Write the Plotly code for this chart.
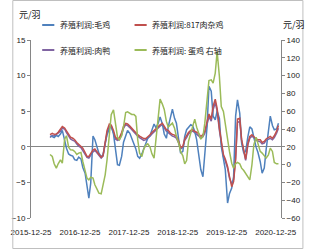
import pandas as pd
import plotly.graph_objects as go

# semi-monthly observation dates (1st and 15th)
dates = pd.date_range("2016-05-15", "2021-01-15", freq="SMS")

names = ["养殖利润:毛鸡", "养殖利润:817肉杂鸡", "养殖利润:肉鸭", "养殖利润: 蛋鸡 右轴"]

broiler = [1.5, 1.45, 1.3, 1.6, 1.45, 1.8, 2.3, 0.75, -0.2, -1.0,
           -1.2, -1.3, -1.8, -1.9, -1.45, -1.7, -2.9, -3.7, -5.3, -7.2,
           -5.1, 1.5, 1.0, -0.2, -0.9, -1.4, -1.1, 0.5, 1.7, 2.5,
           3.0, 1.8, -0.2, -2.5, -2.6, -1.35, 0.65, 1.7, 2.3, 1.9,
           1.2, 0.4, -0.3, -1.35, -1.6, -1.0, -0.3, 0.4, 1.2, 1.6,
           2.3, 3.2, 2.7, 3.3, 4.2, 3.2, 1.8, 1.2, 2.8, 4.0,
           5.3, 4.0, 3.3, 1.0, -0.9, -0.65, 1.45, 2.4, 2.8, 3.1,
           2.95, 2.15, 1.0, -1.1, -3.2, -4.2, -1.35, 2.85, 8.5, 7.8,
           4.3, 3.8, 5.0, 4.0, 0.05, -1.6, -3.2, -7.9, -6.6, -5.8,
           -4.2, 4.3, 6.6, 4.7, 0.5, -0.9, -0.65, 1.45, 2.8, 2.5,
           1.2, -0.05, -0.8, -2.1, -3.7, -3.0, -0.4, 2.4, 4.3, 3.0,
           2.4, 2.5, 3.3]

hybrid817 = [1.7, 1.9, 1.75, 1.8, 2.05, 2.5, 2.85, 2.65, 2.25, 1.75,
             1.35, 1.2, 1.0, 0.6, 0.35, 0.1, -0.2, -0.8, -1.35, -1.35,
             -0.9, -0.45, -0.3, -0.65, -1.0, -1.45, -1.25, 0.75, 2.3, 3.2,
             3.05, 2.3, 1.35, 1.1, 1.25, 2.0, 2.85, 3.3, 3.2, 2.9,
             2.6, 2.25, 2.0, 1.7, 1.5, 1.3, 1.15, 1.15, 1.35, 1.7,
             2.0, 2.3, 2.6, 2.85, 3.1, 3.3, 2.9, 2.4, 2.3, 1.9,
             1.75, 1.65, 1.45, 0.75, -0.1, 0.05, 1.1, 1.55, 2.0, 2.3,
             2.4, 2.15, 2.05, 1.8, 1.45, 1.7, 2.15, 3.55, 4.6, 3.9,
             5.7, 6.7, 5.4, 2.6, 0.75, -1.1, -1.7, -2.75, -4.15, -5.6,
             -4.9, -1.8, 3.9, 4.0, 1.0, -0.4, -1.75, 0.5, 1.45, 1.7,
             1.45, 1.1, 1.0, 1.0, 0.6, 0.75, 1.1, 1.35, 1.45, 1.2,
             1.55, 2.2, 3.0]

duck = [1.3, 1.6, 1.5, 1.7, 1.9, 2.2, 2.6, 2.5, 2.0, 1.5,
        1.1, 0.9, 0.8, 0.4, 0.1, -0.1, -0.5, -1.0, -1.5, -1.6,
        -1.2, -0.7, -0.5, -0.8, -1.2, -1.6, -1.3, 0.4, 2.0, 2.9,
        2.8, 2.0, 1.1, 0.9, 1.0, 1.7, 2.6, 3.1, 3.0, 2.7,
        2.4, 2.0, 1.8, 1.5, 1.3, 1.1, 0.9, 1.0, 1.2, 1.5,
        1.8, 2.1, 2.4, 2.6, 2.9, 3.1, 2.7, 2.2, 2.0, 1.7,
        1.5, 1.4, 1.2, 0.5, -0.3, -0.1, 0.9, 1.3, 1.8, 2.1,
        2.2, 2.0, 1.8, 1.5, 1.2, 1.4, 1.9, 3.2, 4.2, 3.6,
        5.2, 6.2, 5.0, 2.3, 0.4, -1.4, -2.0, -3.0, -4.4, -5.2,
        -4.6, -1.5, 3.4, 3.6, 0.8, -0.6, -1.9, 0.3, 1.2, 1.5,
        1.3, 0.9, 0.8, 0.7, 0.4, 0.5, 0.9, 1.1, 1.2, 1.0,
        1.3, 1.9, 2.6]

layer = [11.4, 9.1, 0.9, -4.0, 0.9, 5.4, 1.6, 28.6, 32.4, 19.6,
         16.6, 16.3, 14.8, 11.4, 12.9, 13.6, 3.5, -6.6, -15.2, -17.1,
         -14.1, -15.2, -22.7, -27.6, -32.1, -32.8, -22.7, -11.5, 5.4, 33.5,
         56.0, 61.6, 44.7, 30.9, 27.9, 32.4, 42.8, 58.6, 59.3, 57.8,
         56.3, 56.3, 54.1, 27.9, 12.9, 9.1, 17.4, 21.9, 23.4, 19.6,
         12.1, 7.3, 27.9, 54.1, 73.6, 68.0, 62.0, 48.5, 42.1, 44.7,
         46.6, 41.0, 31.6, 24.1, 14.8, 9.9, 0.9, 4.6, 26.0, 35.4,
         43.6, 51.1, 42.1, 34.6, 28.6, 31.6, 46.6, 72.8, 94.5, 95.3,
         91.5, 102.8, 127.0, 99.0, 65.3, 59.7, 44.7, 27.9, 14.8, 1.6,
         -4.0, 0.9, 2.4, 0.9, -4.0, -6.6, -9.6, -14.1, -17.1, -0.2,
         22.2, 30.9, 22.2, 14.8, 12.9, 9.9, 7.3, 11.0, 18.5, 14.8,
         2.4, 0.9, 0.9]

x_tick_dates = ["2015-12-25", "2016-12-25", "2017-12-25", "2018-12-25", "2019-12-25", "2020-12-25"]
left_ticks = [-10, -5, 0, 5, 10, 15]
right_ticks = [-60, -40, -20, 0, 20, 40, 60, 80, 100, 120, 140]

colors = ["#4F81BD", "#C0504D", "#8064A2", "#9BBB59"]
FONT = "Noto Sans CJK SC"
TICKFONT = dict(family="Liberation Sans", size=8, color="#222")

fig = go.Figure()
# draw duck first so 817 line stays visible on top
draw_order = [(names[2], duck, colors[2]), (names[0], broiler, colors[0]), (names[1], hybrid817, colors[1])]
for name, vals, col in draw_order:
    fig.add_trace(go.Scatter(x=dates, y=vals, mode="lines", name=name,
                             line=dict(color=col, width=1.5), yaxis="y"))
fig.add_trace(go.Scatter(x=dates, y=layer, mode="lines", name=names[3],
                         line=dict(color=colors[3], width=1.5), yaxis="y2"))

fig.update_layout(
    width=313, height=251,
    margin=dict(l=20, r=25, t=40, b=33),
    paper_bgcolor="white", plot_bgcolor="white",
    showlegend=False,
    xaxis=dict(range=["2015-12-25", "2021-02-03"], tickvals=x_tick_dates, ticktext=x_tick_dates,
               showgrid=False, showline=False, zeroline=False, ticks="",
               ticklabelstandoff=8,
               tickfont=TICKFONT, tickangle=0),
    yaxis=dict(range=[-10, 15], tickvals=left_ticks, showgrid=False,
               showline=True, linecolor="#868686", linewidth=1,
               ticks="outside", ticklen=3, tickcolor="#868686",
               zeroline=True, zerolinecolor="#868686", zerolinewidth=1,
               tickfont=TICKFONT),
    yaxis2=dict(range=[-60, 140], tickvals=right_ticks, overlaying="y", side="right",
                showgrid=False, showline=True, linecolor="#868686", linewidth=1,
                ticks="outside", ticklen=3, tickcolor="#868686", zeroline=False,
                tickfont=TICKFONT),
)

# unit labels
fig.add_annotation(text="元/羽", xref="paper", yref="paper", x=-0.055, y=1.145,
                   xanchor="left", yanchor="middle", showarrow=False,
                   font=dict(family=FONT, size=9, color="#222"))
fig.add_annotation(text="元/羽", xref="paper", yref="paper", x=1.0, y=1.085,
                   xanchor="left", yanchor="middle", showarrow=False,
                   font=dict(family=FONT, size=9, color="#222"))

# manual legend
leg_pos = [(32, 25), (131, 25), (32, 50), (131, 50)]
for (lx, ly), name, col in zip(leg_pos, names, colors):
    x0 = (lx - 20) / 268
    x1 = (lx + 13 - 20) / 268
    yy = (218 - ly) / 178
    fig.add_shape(type="line", xref="paper", yref="paper", x0=x0, x1=x1, y0=yy, y1=yy,
                  line=dict(color=col, width=2))
    fig.add_annotation(text=name, xref="paper", yref="paper", x=(lx + 17 - 20) / 268, y=yy,
                       xanchor="left", yanchor="middle", showarrow=False,
                       font=dict(family=FONT, size=8, color="#222"))

# outer border
fig.add_shape(type="rect", xref="paper", yref="paper",
              x0=(0.5 - 20) / 268, x1=(311.5 - 20) / 268,
              y0=(218 - 248.5) / 178, y1=(218 - 0.5) / 178,
              line=dict(color="#BFBFBF", width=1), fillcolor="rgba(0,0,0,0)")

fig.write_html("out.html")
